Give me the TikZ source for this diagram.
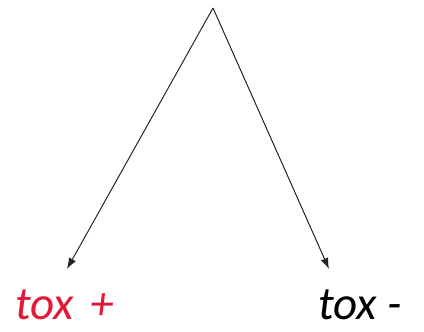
\documentclass[tikz,border=0pt]{standalone}
\usepackage{fontspec}
\setmainfont{Carlito}
\usetikzlibrary{arrows.meta}
\definecolor{toxred}{RGB}{225,25,55}
\begin{document}
\begin{tikzpicture}[x=1pt,y=1pt,
  lbl/.style={anchor=base west, inner sep=0pt, font=\fontsize{47}{50}\selectfont\itshape},
  conn/.style={draw=black!85, line width=1pt, -{Latex[length=11pt,width=8pt]}}]
\useasboundingbox (0,0) rectangle (424,332);
\coordinate (top) at (213,324);
\coordinate (lt) at (67,63);
\coordinate (rt) at (329,63);
\node[lbl, text=toxred] (plus) at (15,12) {tox\hspace{6pt} +};
\node[lbl] (minus) at (318,12) {tox -};
\draw[conn] (top) -- (lt);
\draw[conn] (top) -- (rt);
\end{tikzpicture}
\end{document}
